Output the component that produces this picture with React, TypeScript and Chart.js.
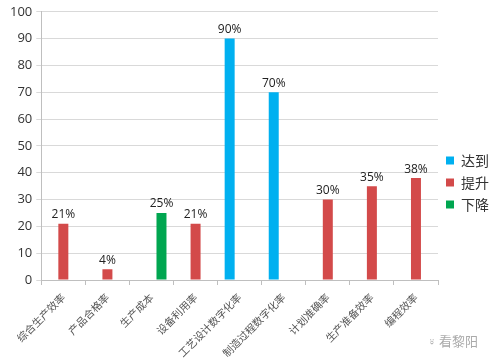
import React, { useEffect, useRef } from "react";
import { Chart, registerables } from "chart.js";

Chart.register(...registerables);

const categories = ["综合生产效率", "产品合格率", "生产成本", "设备利用率", "工艺设计数字化率", "制造过程数字化率", "计划准确率", "生产准备效率", "编程效率"];
const reached = [null, null, null, null, 90, 70, null, null, null];
const improved = [21, 4, null, 21, null, null, 30, 35, 38];
const decreased = [null, null, 25, null, null, null, null, null, null];
const yTicks = [0, 100, 10];

const labelPlugin = {
  id: "valueLabels",
  afterDatasetsDraw(chart: any) {
    const ctx = chart.ctx;
    ctx.save();
    ctx.font = "12px 'Open Sans', sans-serif";
    ctx.fillStyle = "#222";
    ctx.textAlign = "center";
    ctx.textBaseline = "bottom";
    chart.data.datasets.forEach((ds: any, i: number) => {
      const meta = chart.getDatasetMeta(i);
      meta.data.forEach((el: any, j: number) => {
        const v = ds.data[j];
        if (v === null || v === undefined) return;
        ctx.fillText(v + "%", el.x, el.y - 3);
      });
    });
    ctx.restore();
  },
};

export default function App() {
  const ref = useRef<HTMLCanvasElement>(null);
  useEffect(() => {
    const chart = new Chart(ref.current!, {
      type: "bar",
      data: {
        labels: categories,
        datasets: [
          { label: "达到", data: reached, backgroundColor: "#00B0F0" },
          { label: "提升", data: improved, backgroundColor: "#D34A4A" },
          { label: "下降", data: decreased, backgroundColor: "#00A650" },
        ],
      },
      options: {
        animation: false,
        responsive: false,
        maintainAspectRatio: false,
        layout: { padding: { top: 6, right: 0, bottom: 0, left: 6 } },
        datasets: { bar: { categoryPercentage: 0.68, barPercentage: 1, skipNull: false } },
        plugins: {
          tooltip: { enabled: false },
          legend: {
            position: "right",
            labels: {
              boxWidth: 8,
              boxHeight: 8,
              padding: 8,
              color: "#333",
              font: { size: 14, family: "'Noto Sans CJK SC', sans-serif" },
            },
          },
        },
        scales: {
          x: {
            offset: true,
            afterFit: (scale: any) => {
              scale.height = 79;
            },
            grid: { display: true, drawOnChartArea: false, drawTicks: true, tickLength: 5, color: "#bfbfbf", offset: true },
            border: { color: "#bfbfbf" },
            ticks: {
              minRotation: 45,
              maxRotation: 45,
              color: "#555",
              font: { size: 10.5, family: "'Noto Sans CJK SC', sans-serif" },
              padding: 6,
            },
          },
          y: {
            min: yTicks[0],
            max: yTicks[1],
            ticks: { stepSize: yTicks[2], color: "#333", font: { size: 13, family: "'Open Sans', sans-serif" }, padding: 4 },
            grid: { color: "#d9d9d9", tickLength: 5 },
            border: { color: "#bfbfbf" },
          },
        },
      },
      plugins: [labelPlugin],
    });
    return () => chart.destroy();
  }, []);
  return (
    <div style={{ position: "fixed", left: 0, top: 0, width: 499, height: 359, background: "#fff" }}>
      <canvas ref={ref} width={499} height={359} />
      <div style={{ position: "absolute", left: 428, top: 331, fontSize: 13, color: "#aaa", fontFamily: "'Noto Sans CJK SC', sans-serif" }}>
        ⍤ 看黎阳
      </div>
    </div>
  );
}
